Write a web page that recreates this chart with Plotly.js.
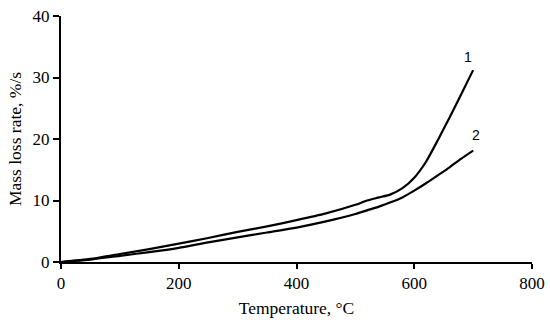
<!DOCTYPE html>
<html>
<head>
<meta charset="utf-8">
<script src="https://cdn.plot.ly/plotly-3.0.1.min.js"></script>
<style>html,body{margin:0;padding:0;background:#fff;}#chart{width:550px;height:325px;}</style>
</head>
<body>
<div id="chart"></div>
<script>
var temperature = [0, 50, 100, 150, 200, 250, 300, 350, 400, 450, 500, 520, 540, 560, 580, 600, 620, 640, 660, 680, 700];
var rate1 = [0, 0.5, 1.3, 2.1, 3.0, 3.9, 4.9, 5.8, 6.8, 7.9, 9.3, 10.0, 10.5, 11.0, 12.0, 13.7, 16.3, 19.8, 23.5, 27.3, 31.2];
var rate2 = [0, 0.4, 1.0, 1.6, 2.3, 3.2, 4.0, 4.8, 5.6, 6.6, 7.8, 8.4, 9.0, 9.7, 10.5, 11.6, 12.8, 14.1, 15.4, 16.8, 18.1];
var curveLabels = ["1", "2"];
var labelX = [692, 705];
var labelY = [33.4, 20.6];

var serif = "'Liberation Serif', 'DejaVu Serif', serif";
var traces = [
  {x: temperature, y: rate1, mode: 'lines', line: {color: '#000', width: 2.2, shape: 'spline', smoothing: 0.6}, name: curveLabels[0]},
  {x: temperature, y: rate2, mode: 'lines', line: {color: '#000', width: 2.2, shape: 'spline', smoothing: 0.6}, name: curveLabels[1]}
];
var annotations = curveLabels.map(function (t, i) {
  return {x: labelX[i], y: labelY[i], xref: 'x', yref: 'y', text: t, showarrow: false,
    font: {family: "'Liberation Sans', 'DejaVu Sans', sans-serif", size: 14, color: '#000'}};
});
var layout = {
  width: 550, height: 325,
  margin: {l: 61, r: 18, t: 16, b: 63},
  paper_bgcolor: '#fff', plot_bgcolor: '#fff',
  showlegend: false,
  font: {family: serif, size: 17, color: '#000'},
  xaxis: {
    range: [0, 800], tickvals: [0, 200, 400, 600, 800], showgrid: false, zeroline: false,
    showline: true, linecolor: '#000', linewidth: 2, ticks: 'outside', ticklen: 5, tickwidth: 2, tickcolor: '#000',
    tickfont: {family: serif, size: 17, color: '#000'},
    title: {text: 'Temperature, °C', font: {family: serif, size: 17.5, color: '#000'}, standoff: 9}
  },
  yaxis: {
    range: [0, 40], tickvals: [0, 10, 20, 30, 40], showgrid: false, zeroline: false,
    showline: true, linecolor: '#000', linewidth: 2, ticks: 'outside', ticklen: 6, tickwidth: 2, tickcolor: '#000',
    tickfont: {family: serif, size: 17, color: '#000'},
    title: {text: 'Mass loss rate, %/s', font: {family: serif, size: 17.5, color: '#000'}, standoff: 6}
  },
  annotations: annotations
};
Plotly.newPlot('chart', traces, layout, {staticPlot: true, displayModeBar: false});
</script>
</body>
</html>
